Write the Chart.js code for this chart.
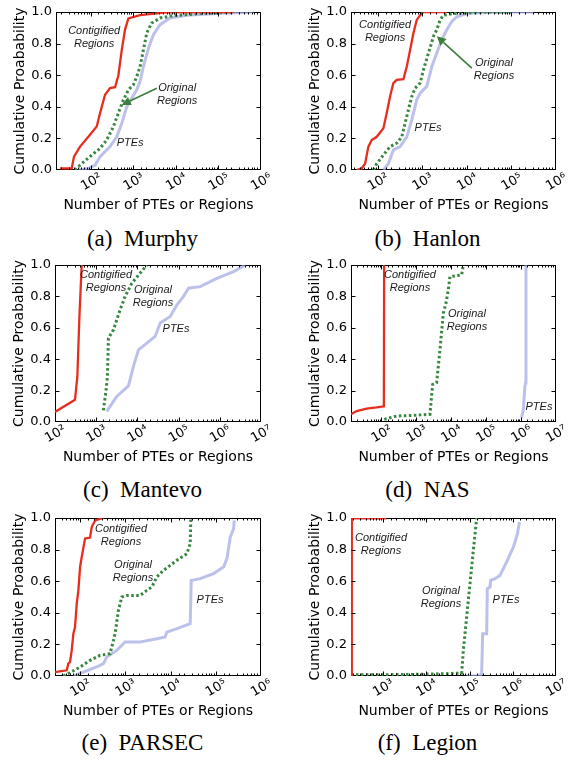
<!DOCTYPE html>
<html><head><meta charset="utf-8">
<script src="https://cdn.jsdelivr.net/npm/chart.js@4.4.1/dist/chart.umd.min.js"></script>
<style>
html,body{margin:0;padding:0;background:#fff;}
#wrap{position:relative;width:570px;height:760px;overflow:hidden;background:#fff;}
canvas{position:absolute;}
.cap{position:absolute;width:285px;text-align:center;font-family:"Liberation Serif","Times New Roman",serif;font-size:23px;line-height:24px;color:#000;white-space:pre;}
</style></head><body><div id="wrap"></div>
<script>
// ---------- data ----------
const panelLetters = ['a','b','c','d','e','f'];
const panelTitles = ['Murphy','Hanlon','Mantevo','NAS','PARSEC','Legion'];
const seriesNames = ['Contigified Regions','Original Regions','PTEs'];
const xMins = [15.1, 25.1, 100, 13.5, 27.9, 182];
const xMaxs = [1e6, 1e6, 1e7, 1e7, 1e6, 1e7];
const yTicks = [0, 0.2, 0.4, 0.6, 0.8, 1.0];

// (a) Murphy
const murphyContigX = [18.8, 35.4, 40, 55.6, 87, 137, 164, 215, 282, 370, 443, 532, 637, 761, 1435, 6030, 224000];
const murphyContigY = [0.01, 0.01, 0.085, 0.148, 0.21, 0.275, 0.36, 0.476, 0.518, 0.524, 0.60, 0.76, 0.89, 0.96, 0.98, 0.998, 1.0];
const murphyOrigX = [42, 55, 95, 164, 235, 338, 443, 580, 762, 998, 1196, 1432, 1716, 2055, 2697, 4236, 8716, 36980, 225000];
const murphyOrigY = [0, 0.03, 0.085, 0.137, 0.19, 0.275, 0.36, 0.444, 0.507, 0.54, 0.59, 0.655, 0.76, 0.867, 0.93, 0.962, 0.977, 0.99, 1.0];
const murphyPtesX = [50.7, 87, 125, 164, 282, 405, 531, 696, 912, 1196, 1432, 1716, 2249, 2951, 4236, 7278, 17950, 91200, 665000];
const murphyPtesY = [0, 0.01, 0.03, 0.085, 0.148, 0.21, 0.296, 0.40, 0.455, 0.507, 0.56, 0.655, 0.77, 0.856, 0.92, 0.962, 0.98, 0.99, 1.0];

// (b) Hanlon
const hanlonContigX = [33.7, 43.6, 51.9, 61.7, 73.2, 94.8, 134, 159, 189, 224, 267, 377, 448, 532, 632, 751, 893, 1060, 3548];
const hanlonContigY = [0, 0.01, 0.04, 0.148, 0.19, 0.21, 0.264, 0.36, 0.465, 0.55, 0.57, 0.575, 0.655, 0.76, 0.867, 0.95, 0.98, 1.0, 1.0];
const hanlonOrigX = [79.8, 94.8, 134, 189, 267, 346, 448, 580, 689, 893, 1060, 1374, 1780, 2115, 2512, 2985, 5012, 19900, 111700];
const hanlonOrigY = [0, 0.04, 0.095, 0.148, 0.17, 0.21, 0.34, 0.465, 0.518, 0.55, 0.634, 0.74, 0.846, 0.888, 0.95, 0.98, 0.99, 1.0, 1.0];
const hanlonPtesX = [134, 173, 224, 317, 448, 580, 751, 893, 1260, 1633, 2115, 2737, 3548, 4592, 5954, 9980, 47100, 314000];
const hanlonPtesY = [0, 0.04, 0.127, 0.148, 0.21, 0.317, 0.444, 0.486, 0.529, 0.655, 0.74, 0.825, 0.888, 0.94, 0.97, 0.99, 1.0, 1.0];

// (c) Mantevo
const mantevoContigX = [100, 306, 349, 391, 445];
const mantevoContigY = [0.064, 0.142, 0.29, 0.67, 1.0];
const mantevoOrigX = [1496, 1738, 1872, 1981, 2620, 3800, 5032, 7313, 10620, 16930];
const mantevoOrigY = [0.074, 0.205, 0.29, 0.534, 0.587, 0.714, 0.80, 0.883, 0.936, 1.0];
const mantevoPtesX = [1803, 3155, 6067, 8020, 10620, 16930, 26990, 35700, 62500, 90800, 131900, 174200, 335000, 851000, 2163000, 4160000];
const mantevoPtesY = [0.068, 0.163, 0.23, 0.354, 0.46, 0.502, 0.545, 0.63, 0.672, 0.746, 0.80, 0.852, 0.862, 0.915, 0.958, 1.0];

// (d) NAS
const nasContigX = [13.5, 19.6, 37.9, 73.2, 118, 120];
const nasContigY = [0.049, 0.07, 0.085, 0.093, 0.10, 1.0];
const nasOrigX = [121, 274, 820, 2461, 2935, 3822, 4760, 5930, 7070, 8240, 9200, 19860, 22160];
const nasOrigY = [0.017, 0.038, 0.042, 0.049, 0.239, 0.25, 0.46, 0.693, 0.757, 0.84, 0.926, 0.937, 1.0];
const nasPtesX = [1035000, 1156000, 1290000, 1350000, 1380000];
const nasPtesY = [0.027, 0.08, 0.228, 0.25, 1.0];

// (e) PARSEC
const parsecContigX = [27.9, 50.6, 55.1, 60, 65.3, 71.1, 77.4, 84.3, 91.8, 100, 108.7, 128.9, 166.3, 181, 214.6, 328];
const parsecContigY = [0.025, 0.036, 0.078, 0.089, 0.162, 0.268, 0.31, 0.458, 0.542, 0.69, 0.753, 0.87, 0.876, 0.943, 0.985, 1.0];
const parsecOrigX = [42.7, 60, 100, 166, 277, 461, 595, 705, 836, 1079, 2128, 2990, 3855, 4977, 6997, 9820, 13790, 22970, 27220, 28180];
const parsecOrigY = [0, 0.021, 0.057, 0.099, 0.131, 0.141, 0.268, 0.416, 0.5, 0.51, 0.51, 0.542, 0.563, 0.627, 0.669, 0.70, 0.732, 0.774, 0.838, 1.0];
const parsecPtesX = [71, 118, 233, 328, 389, 648, 990, 2128, 4977, 7600, 8280, 13790, 27220, 28640, 45300, 89500, 149000, 176600, 209400, 247800, 256500];
const parsecPtesY = [0, 0.025, 0.057, 0.078, 0.12, 0.162, 0.215, 0.215, 0.236, 0.247, 0.278, 0.30, 0.331, 0.605, 0.616, 0.648, 0.69, 0.743, 0.88, 0.932, 0.985];

// (f) Legion
const legionContigX = [189, 190, 1200];
const legionContigY = [0, 0.997, 0.997];
const legionOrigX = [182, 851, 5023, 29630, 65900, 72000, 85900, 102600, 122600, 146600];
const legionOrigY = [0.008, 0.008, 0.01, 0.015, 0.019, 0.162, 0.373, 0.584, 0.795, 1.0];
const legionPtesX = [85900, 168700, 191000, 201400, 249200, 258300, 297700, 308500, 388300, 506700, 722800, 1035000, 1282000, 1427000];
const legionPtesY = [0, 0, 0.015, 0.268, 0.268, 0.553, 0.563, 0.605, 0.616, 0.637, 0.722, 0.816, 0.90, 0.975];

const panelSeries = [
  [[murphyContigX, murphyContigY], [murphyOrigX, murphyOrigY], [murphyPtesX, murphyPtesY]],
  [[hanlonContigX, hanlonContigY], [hanlonOrigX, hanlonOrigY], [hanlonPtesX, hanlonPtesY]],
  [[mantevoContigX, mantevoContigY], [mantevoOrigX, mantevoOrigY], [mantevoPtesX, mantevoPtesY]],
  [[nasContigX, nasContigY], [nasOrigX, nasOrigY], [nasPtesX, nasPtesY]],
  [[parsecContigX, parsecContigY], [parsecOrigX, parsecOrigY], [parsecPtesX, parsecPtesY]],
  [[legionContigX, legionContigY], [legionOrigX, legionOrigY], [legionPtesX, legionPtesY]]
];

// ---------- layout / annotation placement (data coordinates) ----------
const labelAt = [
  {c:[119,0.84],  o:[10650,0.478], p:[834,0.171],   arrow:[[3540,0.518],[531,0.412]]},
  {c:[146,0.88],  o:[40550,0.636], p:[1343,0.266],  arrow:[[12900,0.645],[2115,0.846]]},
  {c:[1730,0.895],o:[23900,0.80],  p:[86500,0.592]},
  {c:[659,0.895], o:[28250,0.646], p:[3.25e6,0.096]},
  {c:[804,0.889], o:[1483,0.661],  p:[74700,0.481]},
  {c:[900,0.832], o:[21900,0.5],   p:[698000,0.481]}
];
const origins = [[0,0],[285,0],[0,252],[285,252],[0,505],[285,505]];
const areas = [[56,261,12,170],[351,556,12,170],[55,261,265,422],[351,556,265,422],[55,261,518,676],[351,556,518,676]];
const capY = [227, 227, 226, 226, 226, 226];

const CW = 285, CH = 225, YW = 48, XH = 48;
const SUP = {'0':'\u2070','1':'\u00b9','2':'\u00b2','3':'\u00b3','4':'\u2074','5':'\u2075','6':'\u2076','7':'\u2077','8':'\u2078','9':'\u2079'};
const axisFont = {family:'"DejaVu Sans", sans-serif', size:13};
const titleFont = {family:'"DejaVu Sans", sans-serif', size:14};
const colors = {c:'#e62e1e', o:'#37873f', p:'rgba(160,166,226,0.7)', arrow:'#3d7d3d'};

function isDecade(v){ const l = Math.log10(v); return Math.abs(l - Math.round(l)) < 1e-6; }

function frameCoords(a){
  return {L:Math.round(a.left)+0.5, R:Math.round(a.right)-0.5, T:Math.round(a.top)+0.5, B:Math.round(a.bottom)-0.5};
}

const decorPlugin = {
  id:'decor',
  beforeDatasetsDraw(chart){
    const {ctx, chartArea:a} = chart;
    const {L,R,T,B} = frameCoords(a);
    ctx.save();
    ctx.strokeStyle = '#000'; ctx.lineWidth = 1;
    ctx.strokeRect(L, T, R-L, B-T);
    ctx.restore();
  },
  afterDraw(chart){
    const {ctx, chartArea:a, scales:{x, y}} = chart;
    const i = chart.options.plugins.decor.index;
    const {L,R,T,B} = frameCoords(a);
    ctx.save();
    ctx.strokeStyle = '#000'; ctx.lineWidth = 1;
    // inner ticks
    ctx.beginPath();
    x.ticks.forEach(t => {
      const px = Math.round(x.getPixelForValue(t.value))+0.5;
      if (px <= L+1 || px >= R-1) return;
      const len = isDecade(t.value) ? 4 : 2;
      ctx.moveTo(px, B); ctx.lineTo(px, B-len);
      ctx.moveTo(px, T); ctx.lineTo(px, T+len);
    });
    yTicks.forEach(v => {
      const py = Math.round(y.getPixelForValue(v))+0.5;
      if (py <= T+1 || py >= B-1) return;
      ctx.moveTo(L, py); ctx.lineTo(L+4, py);
      ctx.moveTo(R, py); ctx.lineTo(R-4, py);
    });
    ctx.stroke();
    // text labels
    const cfg = labelAt[i];
    ctx.fillStyle = '#1a1a1a';
    ctx.font = 'italic 11px "Liberation Sans", Arial, sans-serif';
    ctx.textAlign = 'center'; ctx.textBaseline = 'middle';
    const two = (pos, l1, l2) => {
      const px = x.getPixelForValue(pos[0]), py = y.getPixelForValue(pos[1]);
      ctx.fillText(l1, px, py-6.5); ctx.fillText(l2, px, py+6.5);
    };
    two(cfg.c, 'Contigified', 'Regions');
    two(cfg.o, 'Original', 'Regions');
    ctx.fillText('PTEs', x.getPixelForValue(cfg.p[0]), y.getPixelForValue(cfg.p[1]));
    if (cfg.arrow){
      const [t0, h0] = cfg.arrow;
      const x0 = x.getPixelForValue(t0[0]), y0 = y.getPixelForValue(t0[1]);
      const x1 = x.getPixelForValue(h0[0]), y1 = y.getPixelForValue(h0[1]);
      const ang = Math.atan2(y1-y0, x1-x0);
      const hl = 9, hw = 4.5;
      const bx = x1 - hl*Math.cos(ang), by = y1 - hl*Math.sin(ang);
      ctx.strokeStyle = colors.arrow; ctx.fillStyle = colors.arrow; ctx.lineWidth = 1.6;
      ctx.beginPath(); ctx.moveTo(x0,y0); ctx.lineTo(bx,by); ctx.stroke();
      ctx.beginPath();
      ctx.moveTo(x1,y1);
      ctx.lineTo(bx + hw*Math.sin(ang), by - hw*Math.cos(ang));
      ctx.lineTo(bx - hw*Math.sin(ang), by + hw*Math.cos(ang));
      ctx.closePath(); ctx.fill();
    }
    ctx.restore();
  }
};

const wrap = document.getElementById('wrap');
for (let i = 0; i < 6; i++){
  const [ox, oy] = origins[i];
  const [aL, aR, aT, aB] = areas[i];
  const cv = document.createElement('canvas');
  cv.width = CW; cv.height = CH;
  cv.style.left = ox+'px'; cv.style.top = oy+'px';
  cv.style.width = CW+'px'; cv.style.height = CH+'px';
  wrap.appendChild(cv);
  const cap = document.createElement('div');
  cap.className = 'cap';
  cap.style.left = ox+'px'; cap.style.top = (oy+capY[i])+'px';
  cap.textContent = '(' + panelLetters[i] + ')\u2002' + panelTitles[i];
  wrap.appendChild(cap);

  const mk = (s) => s[0].map((v, k) => ({x:v, y:s[1][k]}));
  const ser = panelSeries[i];
  new Chart(cv, {
    type:'line',
    data:{datasets:[
      {label:seriesNames[0], data:mk(ser[0]), borderColor:colors.c, borderWidth:2.3, pointRadius:0, tension:0, fill:false},
      {label:seriesNames[1], data:mk(ser[1]), borderColor:colors.o, borderWidth:3, borderDash:[2.5,2.5], pointRadius:0, tension:0, fill:false},
      {label:seriesNames[2], data:mk(ser[2]), borderColor:colors.p, borderWidth:3, pointRadius:0, tension:0, fill:false}
    ]},
    options:{
      responsive:false, animation:false, devicePixelRatio:1,
      layout:{padding:{left:aL-ox-YW, right:ox+CW-aR, top:aT-oy, bottom:oy+CH-aB-XH}},
      plugins:{legend:{display:false}, tooltip:{enabled:false}, decor:{index:i}},
      scales:{
        x:{type:'logarithmic', min:xMins[i], max:xMaxs[i],
          grid:{display:false, drawTicks:false},
          border:{display:false},
          ticks:{autoSkip:false, minRotation:30, maxRotation:30, padding:0, labelOffset:10, color:'#000', font:axisFont,
            callback:(v)=> isDecade(v) ? '10' + String(Math.round(Math.log10(v))).split('').map(c=>SUP[c]).join('') : ''},
          title:{display:true, text:'Number of PTEs or Regions', color:'#000', font:titleFont, padding:{top:4,bottom:4}},
          afterFit:(s)=>{ s.height = XH; }
        },
        y:{type:'linear', min:0, max:1,
          grid:{display:false, drawTicks:false},
          border:{display:false},
          ticks:{stepSize:0.2, padding:4, color:'#000', font:axisFont, callback:(v)=>Number(v).toFixed(1)},
          title:{display:true, text:'Cumulative Proabability', color:'#000', font:titleFont, padding:{top:4,bottom:4}},
          afterFit:(s)=>{ s.width = YW; }
        }
      }
    },
    plugins:[decorPlugin]
  });
}
</script></body></html>
